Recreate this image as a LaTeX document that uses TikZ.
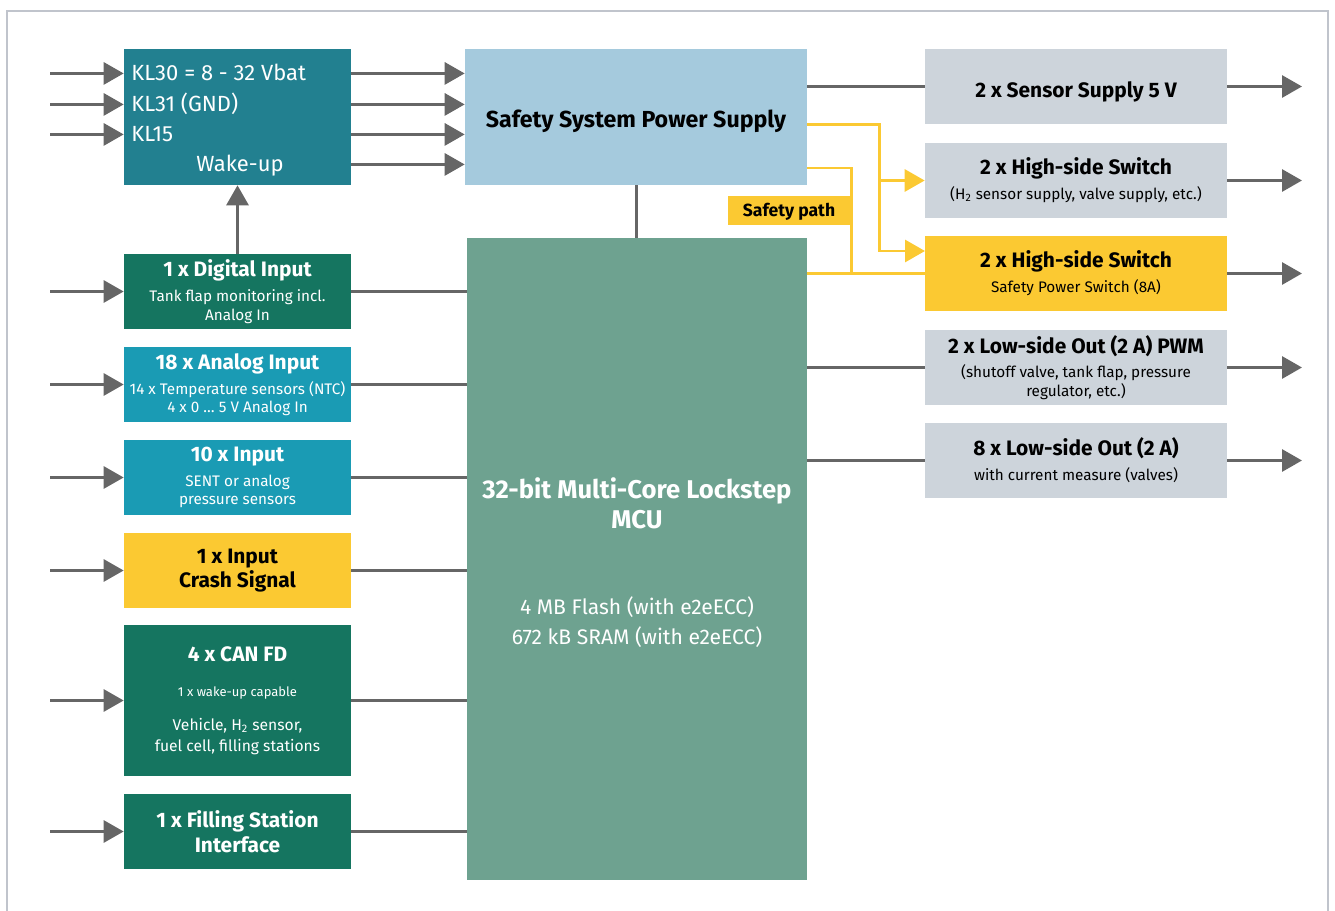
\documentclass[tikz,border=0pt]{standalone}
\usepackage{fontspec}
\setmainfont{Fira Sans}
\usetikzlibrary{arrows.meta}
\definecolor{klTeal}{RGB}{34,128,144}
\definecolor{psBlue}{RGB}{165,202,221}
\definecolor{mcuGreen}{RGB}{110,162,144}
\definecolor{darkGreen}{RGB}{21,117,96}
\definecolor{inCyan}{RGB}{26,155,180}
\definecolor{safeYellow}{RGB}{251,201,50}
\definecolor{outGray}{RGB}{205,212,219}
\definecolor{lineGray}{RGB}{102,102,102}
\definecolor{frameGray}{RGB}{192,196,204}
\newcommand{\tFont}{\fontsize{11.9}{14}\selectfont\bfseries}
\newcommand{\sFont}{\fontsize{8.7}{10.5}\selectfont}
\newcommand{\klFont}{\fontsize{12.5}{14}\selectfont}
\newcommand{\psFont}{\fontsize{13.2}{15}\selectfont\bfseries}
\newcommand{\mFont}{\fontsize{14.6}{17}\selectfont\bfseries}
\newcommand{\memFont}{\fontsize{12}{17}\selectfont\mdseries}
\newcommand{\tinyFont}{\fontsize{7.4}{9}\selectfont}
\newcommand{\canFont}{\fontsize{8.9}{12}\selectfont}
\newcommand{\pathFont}{\fontsize{10}{12}\selectfont\bfseries}

\begin{document}
\begin{tikzpicture}[x=0.02cm, y=-0.02cm,
    blk/.style={rectangle, inner sep=0pt, align=center, text=white, font=\sFont},
    leftblk/.style={blk, minimum width=4.54cm, minimum height=1.5cm},
    rightblk/.style={blk, fill=outGray, text=black, minimum width=6.04cm, minimum height=1.5cm},
    oneline/.style={text height=12.3pt, text depth=0pt},
    kltext/.style={text=white, inner sep=0pt, text height=8.6pt, text depth=0pt, font=\klFont},
    conn/.style={lineGray, line width=1.7pt},
    arr/.style={conn, -{Triangle[length=0.4cm, width=0.44cm]}},
    safe/.style={safeYellow, line width=1.7pt},
    safearr/.style={safe, -{Triangle[length=0.4cm, width=0.44cm]}}]
  \useasboundingbox (0,0) rectangle (1335,911);
  % frame, open at the bottom
  \draw[frameGray, line width=1.2pt] (7,911) -- (7,11) -- (1328,11) -- (1328,911);

  % supply inputs
  \node[blk, fill=klTeal, minimum width=4.54cm, minimum height=2.72cm] (kl) at (237.5,117) {};
  \node[kltext, anchor=base west] (kl30) at (131,81) {KL30 = 8 - 32 Vbat};
  \node[kltext, anchor=base west] (kl31) at (131,112) {KL31 (GND)};
  \node[kltext, anchor=base west] (kl15) at (131,142) {KL15};
  \node[kltext, anchor=base] (wake) at (240,172) {Wake-up};

  \node[blk, oneline, fill=psBlue, text=black, minimum width=6.84cm, minimum height=2.72cm, font=\psFont] (ps) at (636,117) {Safety System Power Supply};
  \node[blk, fill=mcuGreen, minimum width=6.8cm, minimum height=12.84cm, font=\mFont] (mcu) at (637,559)
    {\rule{0pt}{16pt}32-bit Multi-Core Lockstep\\MCU\\[32pt]\memFont 4 MB Flash (with e2eECC)\\\memFont 672 kB SRAM (with e2eECC)};

  % left column
  \node[leftblk, fill=darkGreen] (dig) at (237.5,291.5)
    {\tFont 1 x Digital Input\\[3.7pt]Tank flap monitoring incl.\\Analog In};
  \node[leftblk, fill=inCyan] (ana) at (237.5,384.5)
    {\tFont 18 x Analog Input\\[3.7pt]14 x Temperature sensors (NTC)\\4 x 0 \dots\ 5 V Analog In};
  \node[leftblk, fill=inCyan] (inp) at (237.5,477.5)
    {\tFont 10 x Input\\[3.7pt]SENT or analog\\pressure sensors};
  \node[leftblk, fill=safeYellow, text=black, font=\tFont] (crash) at (237.5,570.5)
    {1 x Input\\Crash Signal};
  \node[leftblk, fill=darkGreen, minimum height=3.02cm, font=\canFont] (can) at (237.5,700.5)
    {\tFont 4 x CAN FD\\[7.9pt]\tinyFont 1 x wake-up capable\\[7.4pt]Vehicle, H\textsubscript{2} sensor,\\fuel cell, filling stations};
  \node[leftblk, fill=darkGreen, font=\tFont] (fill) at (237.5,831.5)
    {1 x Filling Station\\Interface};

  % right column
  \node[rightblk, oneline, font=\tFont] (sens) at (1076,86.5) {2 x Sensor Supply 5 V};
  \node[rightblk] (hsa) at (1076,180.5)
    {\tFont 2 x High-side Switch\\[3.7pt](H\textsubscript{2} sensor supply, valve supply, etc.)};
  \node[rightblk, fill=safeYellow] (hsb) at (1076,273.5)
    {\tFont 2 x High-side Switch\\[3.7pt]Safety Power Switch (8A)};
  \node[rightblk] (lspwm) at (1076,367.5)
    {\tFont 2 x Low-side Out (2 A) PWM\\[3.4pt](shutoff valve, tank flap, pressure\\regulator, etc.)};
  \node[rightblk] (lsout) at (1076,460.5)
    {\tFont 8 x Low-side Out (2 A)\\[3.7pt]with current measure (valves)};

  % connectors
  \coordinate (inx) at (50,0);
  \coordinate (outx) at (1302,0);
  \foreach \n in {kl30,kl31,kl15}
    \draw[arr] (inx |- \n) -- (kl.west |- \n);
  \foreach \n in {kl30,kl31,kl15,wake}
    \draw[arr] (kl.east |- \n) -- (ps.west |- \n);
  \foreach \n in {dig,ana,inp,crash,can,fill} {
    \draw[arr] (inx |- \n.west) -- (\n.west);
    \draw[conn] (\n.east) -- (mcu.west |- \n.east);
  }
  \draw[arr] (dig.north) -- (kl.south);
  \draw[conn] (ps.south) -- (ps.south |- mcu.north);
  \draw[conn] (ps.east |- sens.west) -- (sens.west);
  \foreach \n in {lspwm,lsout}
    \draw[conn] (mcu.east |- \n.west) -- (\n.west);
  \foreach \n in {sens,hsa,hsb,lspwm,lsout}
    \draw[arr] (\n.east) -- (outx |- \n.east);

  % safety path
  \coordinate (ya) at (879,125);
  \coordinate (yb) at (851,168);
  \coordinate (hsbtop) at (925,251);
  \draw[safearr] (ps.east |- ya) -- (ya) |- (hsbtop);
  \draw[safearr] (ya |- hsa.west) -- (hsa.west);
  \draw[safe] (ps.east |- yb) -- (yb) |- (hsb.west);
  \draw[safe] (mcu.east |- hsb.west) -- (hsb.west);
  \node[blk, text height=6.9pt, text depth=0pt, fill=safeYellow, text=black, minimum width=2.44cm, minimum height=0.58cm, font=\pathFont] (spath) at (789,210.5) {Safety path};
\end{tikzpicture}
\end{document}
